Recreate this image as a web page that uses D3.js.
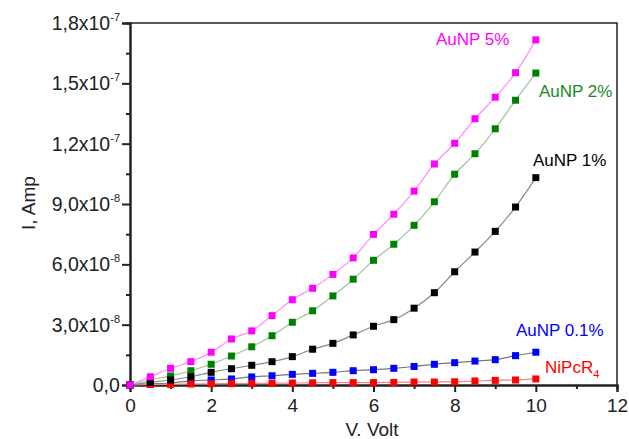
<!DOCTYPE html>
<html>
<head>
<meta charset="utf-8">
<title>I-V curves</title>
<style>
  body { margin: 0; background: #fff; }
  svg text { font-family: Arial, "Liberation Sans", sans-serif; }
</style>
</head>
<body>
<div id="chart"></div>
<script src="https://cdn.jsdelivr.net/npm/d3@7"></script>
<script>

// voltage steps, V
var voltage = [0, 0.5, 1, 1.5, 2, 2.5, 3, 3.5, 4, 4.5, 5, 5.5, 6, 6.5, 7, 7.5, 8, 8.5, 9, 9.5, 10];

// currents, in units of 1e-8 A
var unit = 1e-8;
var niPcR4  = [0, 0.02, 0.03, 0.05, 0.06, 0.07, 0.08, 0.09, 0.10, 0.11, 0.12, 0.12, 0.12, 0.13, 0.15, 0.15, 0.16, 0.20, 0.23, 0.25, 0.30];
var auNP01  = [0, 0.05, 0.10, 0.21, 0.25, 0.30, 0.40, 0.46, 0.53, 0.58, 0.63, 0.71, 0.76, 0.83, 0.92, 1.03, 1.11, 1.19, 1.26, 1.46, 1.63];
var auNP1   = [0, 0.13, 0.25, 0.41, 0.63, 0.81, 0.98, 1.16, 1.41, 1.78, 2.07, 2.49, 2.92, 3.25, 3.82, 4.59, 5.63, 6.61, 7.64, 8.85, 10.31];
var auNP2   = [0, 0.25, 0.45, 0.71, 1.03, 1.44, 1.90, 2.45, 3.12, 3.69, 4.43, 5.26, 6.20, 7.00, 7.94, 9.11, 10.48, 11.50, 12.74, 14.16, 15.51];
var auNP5   = [0, 0.41, 0.83, 1.16, 1.63, 2.29, 2.69, 3.45, 4.24, 4.81, 5.50, 6.32, 7.49, 8.49, 9.64, 10.99, 12.02, 13.24, 14.31, 15.53, 17.16];

// tick labels
var xTicks = [0, 2, 4, 6, 8, 10, 12];
var yTicks = [0, 3e-8, 6e-8, 9e-8, 1.2e-7, 1.5e-7, 1.8e-7];
var yTickMantissa = ["0,0", "3,0", "6,0", "9,0", "1,2", "1,5", "1,8"];
var yTickExponent = ["", "-8", "-8", "-8", "-7", "-7", "-7"];

var seriesNames = ["AuNP 0.1%", "NiPcR4", "AuNP 2%", "AuNP 1%", "AuNP 5%"];
var seriesValues = [auNP01, niPcR4, auNP2, auNP1, auNP5];
var markerColors = ["#0000ff", "#ff0000", "#008000", "#000000", "#ff00ff"];
var lineColors   = ["#777777", "#ff8080", "#99c799", "#888888", "#ff88ff"];

var w = 629, h = 439;
var margin = {left: 130, top: 23, right: 12, bottom: 54};

var svg = d3.select("#chart").append("svg")
    .attr("width", w).attr("height", h);

var x = d3.scaleLinear().domain([0, 12]).range([margin.left, w - margin.right]);
var y = d3.scaleLinear().domain([0, 1.8e-7]).range([h - margin.bottom, margin.top]);

// frame: top and right
svg.append("path")
    .attr("d", "M" + x(0) + "," + y(1.8e-7) + "H" + x(12) + "V" + y(0))
    .attr("fill", "none").attr("stroke", "#222").attr("stroke-width", 1.5);

// x axis, major and minor ticks
var xAxis = svg.append("g").attr("transform", "translate(0," + y(0) + ")");
xAxis.call(d3.axisBottom(x).tickValues(d3.range(1, 12, 2)).tickSize(4).tickFormat(""));
xAxis.append("g").call(d3.axisBottom(x).tickValues(xTicks).tickSize(7).tickFormat(d3.format("d")));
xAxis.selectAll(".domain").attr("stroke", "#222").attr("stroke-width", 2);
xAxis.selectAll("line").attr("stroke", "#222").attr("stroke-width", 2);
xAxis.selectAll("text").attr("fill", "#222").attr("font-size", 19).attr("dy", "0.88em");

// y axis
var yAxis = svg.append("g").attr("transform", "translate(" + x(0) + ",0)");
yAxis.call(d3.axisLeft(y).tickValues(d3.range(1.5e-8, 1.8e-7, 3e-8)).tickSize(4).tickFormat(""));
yAxis.append("g").call(d3.axisLeft(y).tickValues(yTicks).tickSize(8).tickFormat(""));
yAxis.selectAll(".domain").attr("stroke", "#222").attr("stroke-width", 2);
yAxis.selectAll("line").attr("stroke", "#222").attr("stroke-width", 2);

// y tick labels with superscript exponent
var yLab = svg.append("g").selectAll("text")
    .data(yTicks)
    .enter().append("text")
    .attr("x", x(0) - 10)
    .attr("y", function(d) { return y(d) + 7; })
    .attr("text-anchor", "end")
    .attr("font-size", 19.5)
    .attr("fill", "#222");
yLab.append("tspan").text(function(d, i) { return yTickMantissa[i] + (yTickExponent[i] ? "x10" : ""); });
yLab.append("tspan")
    .attr("font-size", 11)
    .attr("dy", -9)
    .text(function(d, i) { return yTickExponent[i]; });
// line the right end of every label up with the tick
yLab.each(function(d, i) {
  var t = d3.select(this);
  var bb = this.getBBox();
  var right = bb.x + bb.width;
  t.attr("x", +t.attr("x") + (x(0) - 10 - right));
});

// axis titles
svg.append("text")
    .attr("x", 372).attr("y", 436)
    .attr("text-anchor", "middle").attr("font-size", 19).attr("fill", "#222")
    .text("V. Volt");
svg.append("text")
    .attr("transform", "translate(35,203) rotate(-90)")
    .attr("text-anchor", "middle").attr("font-size", 19).attr("fill", "#222")
    .text("I, Amp");

// curves
var line = d3.line()
    .x(function(d, i) { return x(voltage[i]); })
    .y(function(d) { return y(d * unit); })
    .curve(d3.curveCatmullRom.alpha(0.5));

var groups = svg.selectAll(".series")
    .data(seriesValues)
    .enter().append("g").attr("class", "series");

groups.append("path")
    .attr("d", function(d) { return line(d); })
    .attr("fill", "none")
    .attr("stroke", function(d, i) { return lineColors[i]; })
    .attr("stroke-width", 1.2);

var ms = 7;
groups.each(function(vals, si) {
  d3.select(this).selectAll("rect")
    .data(vals)
    .enter().append("rect")
    .attr("x", function(d, i) { return x(voltage[i]) - ms / 2; })
    .attr("y", function(d) { return y(d * unit) - ms / 2; })
    .attr("width", ms).attr("height", ms)
    .attr("fill", markerColors[si]);
});

// series labels
var labels = [
  {name: "AuNP 5%", x: 436, y: 45, c: "#ff00ff"},
  {name: "AuNP 2%", x: 539, y: 97, c: "#1a8a1a"},
  {name: "AuNP 1%", x: 533, y: 166, c: "#000000"},
  {name: "AuNP 0.1%", x: 516, y: 336, c: "#0000ff"}
];
svg.selectAll(".lbl").data(labels).enter().append("text")
    .attr("class", "lbl")
    .attr("x", function(d) { return d.x; })
    .attr("y", function(d) { return d.y; })
    .attr("font-size", 17)
    .attr("fill", function(d) { return d.c; })
    .text(function(d) { return d.name; });

var ni = svg.append("text")
    .attr("x", 545).attr("y", 373)
    .attr("font-size", 17).attr("fill", "#ff0000");
ni.append("tspan").text("NiPcR");
ni.append("tspan").attr("font-size", 11).attr("dy", 5).text("4");

</script>
</body>
</html>
